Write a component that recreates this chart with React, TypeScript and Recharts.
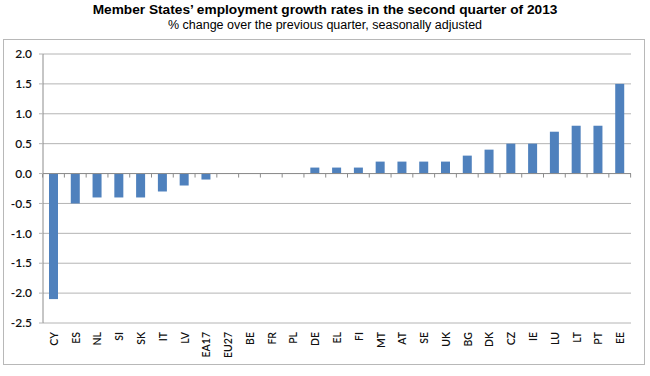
import React from "react";
import { BarChart, Bar, XAxis, YAxis, CartesianGrid, ReferenceLine } from "recharts";

const categories = ["CY","ES","NL","SI","SK","IT","LV","EA17","EU27","BE","FR","PL","DE","EL","FI","MT","AT","SE","UK","BG","DK","CZ","IE","LU","LT","PT","EE"];
const values = [-2.1,-0.5,-0.4,-0.4,-0.4,-0.3,-0.2,-0.1,0,0,0,0,0.1,0.1,0.1,0.2,0.2,0.2,0.2,0.3,0.4,0.5,0.5,0.7,0.8,0.8,1.5];
const yTicks = [-2.5,-2.0,-1.5,-1.0,-0.5,0,0.5,1.0,1.5,2.0];

const data = categories.map((name, i) => ({ name, v: values[i] }));

const W = 650;
const H = 376;
const margin = { top: 54, right: 19, bottom: 23, left: 3 };
const yAxisWidth = 40;
const plotWidth = W - margin.left - margin.right - yAxisWidth;
const band = plotWidth / categories.length;

const BarShape = (props: any) => {
  const { x, y, width, height, payload, index } = props;
  const top = Math.min(y, y + height);
  const bottom = Math.max(y, y + height);
  const zeroY = payload.v >= 0 ? bottom : top;
  const cx = x + width / 2;
  const left = cx - band / 2;
  const right = cx + band / 2;
  return (
    <g>
      {Math.abs(height) > 0 && (
        <rect x={x} y={top} width={width} height={bottom - top} fill="#4F81BD" />
      )}
      <line x1={left} x2={left} y1={zeroY} y2={zeroY + 4} stroke="#8c8c8c" strokeWidth={1} />
      {index === categories.length - 1 && (
        <line x1={right} x2={right} y1={zeroY} y2={zeroY + 4} stroke="#8c8c8c" strokeWidth={1} />
      )}
    </g>
  );
};

const XTick = (props: any) => {
  const { x, y, payload } = props;
  return (
    <text
      x={0}
      y={0}
      transform={`translate(${x + 4},${y + 1}) rotate(-90)`}
      textAnchor="end"
      fontSize={10.5}
      fontFamily="Lato, 'Liberation Sans', sans-serif"
      fontWeight={600}
      fill="#111"
    >
      {payload.value}
    </text>
  );
};

export default function App() {
  return (
    <div style={{ position: "absolute", left: 0, top: 0, width: W, height: H, background: "#fff" }}>
      <div
        style={{
          position: "absolute",
          left: 3,
          top: 39,
          width: 642,
          height: 326,
          border: "1px solid #b8b8b8",
          boxSizing: "border-box",
        }}
      />
      <div
        style={{
          position: "absolute",
          left: 0,
          top: 2,
          width: W,
          textAlign: "center",
          fontFamily: "'Liberation Sans', Arial, sans-serif",
          fontWeight: 700,
          fontSize: 13.7,
          color: "#000",
        }}
      >
        Member States’ employment growth rates in the second quarter of 2013
      </div>
      <div
        style={{
          position: "absolute",
          left: 0,
          top: 18,
          width: W,
          textAlign: "center",
          fontFamily: "'Liberation Sans', Arial, sans-serif",
          fontSize: 12.5,
          color: "#000",
        }}
      >
        % change over the previous quarter, seasonally adjusted
      </div>
      <div style={{ position: "absolute", left: 0, top: 0 }}>
        <BarChart width={W} height={H} data={data} margin={margin} barSize={9}>
          <CartesianGrid vertical={false} stroke="#b4b4b4" strokeWidth={1} />
          <XAxis
            dataKey="name"
            interval={0}
            axisLine={false}
            tickLine={false}
            height={30}
            tick={<XTick />}
          />
          <YAxis
            width={yAxisWidth}
            domain={[-2.5, 2]}
            ticks={yTicks}
            allowDataOverflow
            axisLine={{ stroke: "#8c8c8c" }}
            tickLine={{ stroke: "#b4b4b4" }}
            tickSize={4}
            tickMargin={7}
            tickFormatter={(v: number) => v.toFixed(1)}
            tick={{ fontSize: 12, fill: "#111", fontFamily: "Lato, 'Liberation Sans', sans-serif", fontWeight: 600 }}
          />
          <ReferenceLine y={0} stroke="#8c8c8c" strokeWidth={1} />
          <Bar dataKey="v" isAnimationActive={false} shape={<BarShape />} />
        </BarChart>
      </div>
    </div>
  );
}
